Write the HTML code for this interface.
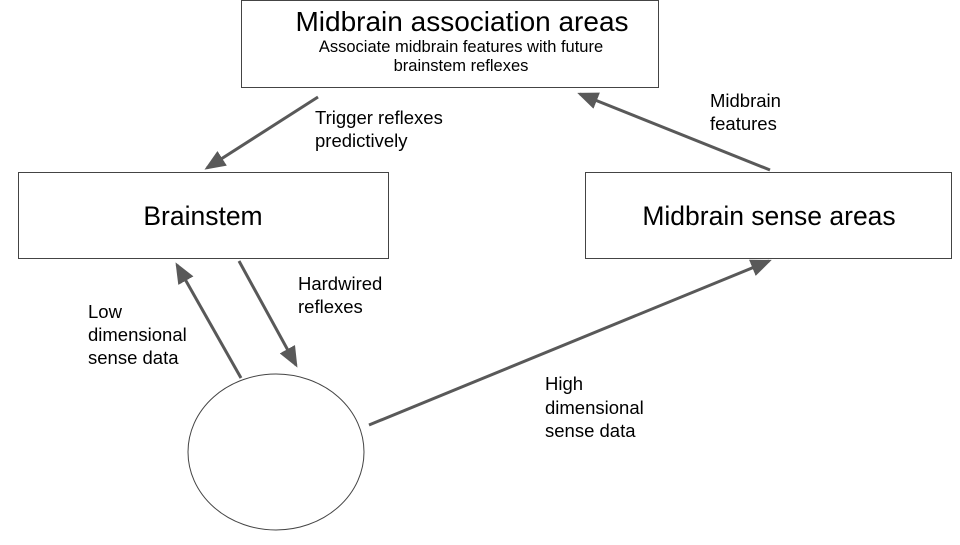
<!DOCTYPE html>
<html><head><style>
body{margin:0;background:#fff;}
svg text{font-family:"Liberation Sans",Arial,sans-serif;fill:#000;}
</style></head><body>
<svg width="960" height="540" viewBox="0 0 960 540" xmlns="http://www.w3.org/2000/svg">
<defs><marker id="a" markerWidth="7" markerHeight="7" refX="6" refY="3.5" orient="auto" markerUnits="strokeWidth"><path d="M0,0.6 L7,3.5 L0,6.4 z" fill="#595959"/></marker></defs>
<rect x="241.5" y="0.5" width="417" height="87" fill="#fff" stroke="#444" stroke-width="1"/>
<rect x="18.5" y="172.5" width="370" height="86" fill="#fff" stroke="#444" stroke-width="1"/>
<rect x="585.5" y="172.5" width="366" height="86" fill="#fff" stroke="#444" stroke-width="1"/>
<ellipse cx="276" cy="452" rx="88" ry="78" fill="#fff" stroke="#444" stroke-width="1"/>
<text x="462" y="31" font-size="28" text-anchor="middle">Midbrain association areas</text>
<text x="461" y="52" font-size="16.5" text-anchor="middle">Associate midbrain features with future</text>
<text x="461" y="71" font-size="16.5" text-anchor="middle">brainstem reflexes</text>
<text x="203" y="225" font-size="26.5" text-anchor="middle">Brainstem</text>
<text x="769" y="225" font-size="26.5" text-anchor="middle">Midbrain sense areas</text>
<g stroke="#595959" stroke-width="3" fill="none" marker-end="url(#a)">
<line x1="318" y1="97" x2="207" y2="168"/>
<line x1="770" y1="170" x2="580" y2="94"/>
<line x1="241" y1="378" x2="177" y2="265"/>
<line x1="239" y1="261" x2="296" y2="365"/>
<line x1="369" y1="425" x2="769" y2="261"/>
</g>
<g font-size="18.5">
<text x="315" y="124">Trigger reflexes</text>
<text x="315" y="147">predictively</text>
<text x="710" y="107">Midbrain</text>
<text x="710" y="130">features</text>
<text x="298" y="290">Hardwired</text>
<text x="298" y="313">reflexes</text>
<text x="88" y="318">Low</text>
<text x="88" y="341">dimensional</text>
<text x="88" y="364">sense data</text>
<text x="545" y="390">High</text>
<text x="545" y="414">dimensional</text>
<text x="545" y="437">sense data</text>
</g>
</svg>
</body></html>
